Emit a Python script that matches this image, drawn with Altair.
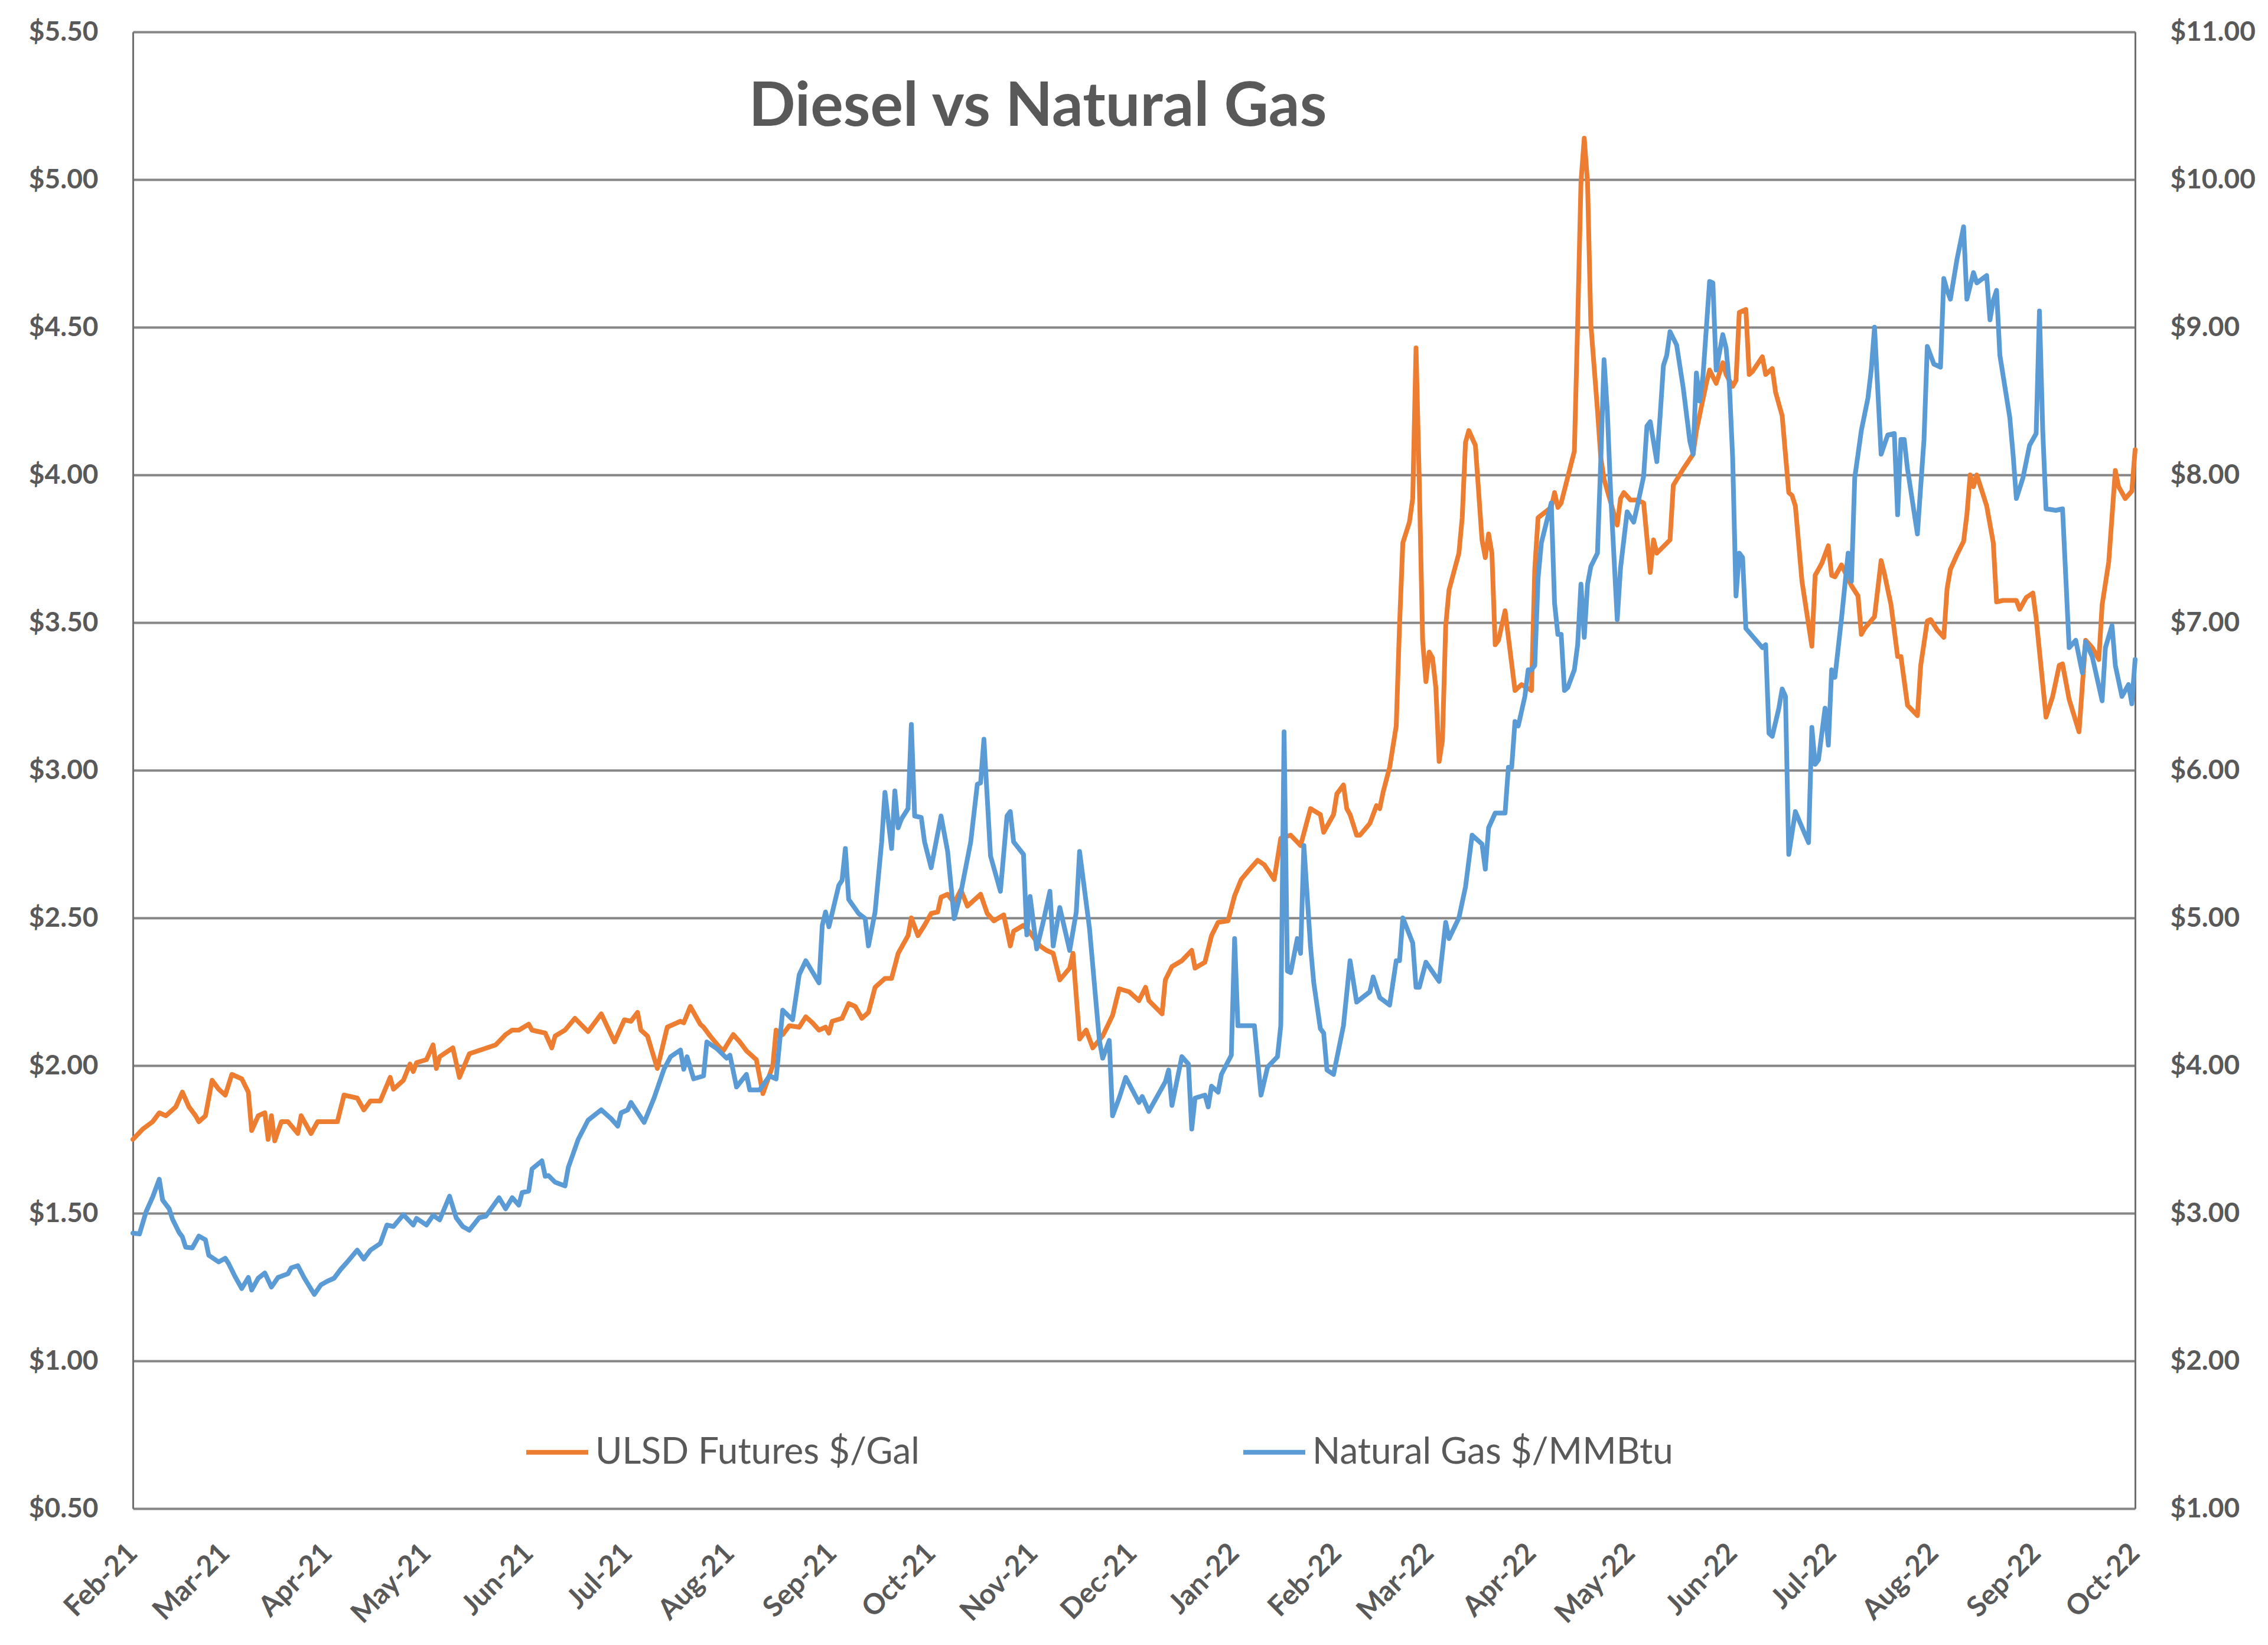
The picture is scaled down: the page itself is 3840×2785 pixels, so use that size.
import altair as alt
import pandas as pd

# ---------------- data ----------------
START_DATE = "2021-02-01"          # day 0 of the day-offset arrays below
series_names = ["ULSD Futures $/Gal", "Natural Gas $/MMBtu"]
series_colors = ["#ED7D31", "#5B9BD5"]
title_text = "Diesel vs Natural Gas"
month_ticks = [(2021, m) for m in range(2, 13)] + [(2022, m) for m in range(1, 11)]
left_ticks = [0.5, 1.0, 1.5, 2.0, 2.5, 3.0, 3.5, 4.0, 4.5, 5.0, 5.5]
right_ticks = [1, 2, 3, 4, 5, 6, 7, 8, 9, 10, 11]

# ULSD futures, $/gal  (days after 1 Feb 2021)
ulsd_day = [0, 3, 6, 8, 10, 13, 15, 17, 19, 20, 22, 24, 26, 28, 30, 33, 35, 36, 38, 40,
            41, 42, 43, 45, 47, 50, 51, 54, 56, 62, 64, 68, 70, 72, 75, 78, 79, 82, 84, 85,
            86, 89, 91, 92, 93, 97, 99, 102, 106, 110, 113, 115, 117, 120, 121, 125, 127, 128, 131, 134,
            138, 142, 146, 149, 151, 153, 154, 156, 159, 162, 164, 166, 167, 169, 172, 173, 175, 178, 179, 182,
            184, 186, 189, 191, 194, 195, 197, 199, 202, 204, 206, 208, 210, 211, 212, 215, 217, 219, 221, 223,
            225, 228, 230, 232, 235, 236, 238, 240, 242, 244, 245, 247, 249, 251, 253, 257, 259, 261, 264, 266,
            267, 270, 272, 275, 277, 279, 281, 284, 285, 287, 289, 291, 294, 297, 299, 302, 305, 307, 308, 312,
            313, 315, 318, 321, 322, 325, 327, 329, 332, 334, 336, 339, 341, 343, 346, 348, 351, 354, 357, 360,
            361, 363, 364, 365, 367, 368, 369, 371, 372, 375, 377, 378, 379, 381, 383, 384, 385, 387, 388, 389,
            390, 391, 392, 393, 394, 395, 396, 397, 398, 399, 402, 403, 404, 405, 407, 409, 410, 411, 412, 413,
            414, 416, 419, 421, 424, 425, 426, 430, 431, 432, 433, 437, 438, 439, 440, 441, 442, 444, 445, 446,
            450, 451, 452, 454, 456, 458, 460, 461, 462, 466, 467, 470, 473, 474, 477, 478, 480, 482, 483, 485,
            486, 487, 489, 490, 491, 494, 495, 497, 498, 500, 502, 503, 504, 506, 509, 510, 512, 514, 515, 516,
            518, 521, 523, 524, 525, 528, 530, 531, 533, 535, 536, 538, 541, 542, 544, 545, 547, 549, 550, 551,
            553, 555, 556, 557, 558, 559, 562, 564, 565, 567, 571, 572, 574, 576, 577, 580, 582, 584, 585, 587,
            590, 592, 594, 596, 597, 599, 601, 602, 604, 606, 607]
ulsd_price = [1.75, 1.785, 1.81, 1.84, 1.83, 1.86, 1.91, 1.86, 1.83, 1.81, 1.83, 1.95, 1.92, 1.90, 1.97, 1.955, 1.91, 1.78, 1.83, 1.84,
              1.75, 1.83, 1.745, 1.81, 1.81, 1.77, 1.83, 1.77, 1.81, 1.81, 1.90, 1.89, 1.85, 1.88, 1.88, 1.96, 1.92, 1.95, 2.005, 1.98,
              2.01, 2.02, 2.07, 1.99, 2.03, 2.06, 1.96, 2.04, 2.055, 2.07, 2.105, 2.12, 2.12, 2.14, 2.12, 2.11, 2.06, 2.10, 2.12, 2.16,
              2.115, 2.175, 2.08, 2.155, 2.15, 2.18, 2.12, 2.10, 1.99, 2.13, 2.14, 2.15, 2.145, 2.20, 2.14, 2.13, 2.10, 2.06, 2.05, 2.105,
              2.08, 2.05, 2.02, 1.905, 2.00, 2.12, 2.105, 2.135, 2.13, 2.165, 2.145, 2.12, 2.13, 2.11, 2.15, 2.16, 2.21, 2.20, 2.16, 2.18,
              2.265, 2.295, 2.295, 2.38, 2.44, 2.50, 2.44, 2.475, 2.515, 2.52, 2.57, 2.58, 2.55, 2.595, 2.54, 2.58, 2.515, 2.49, 2.51, 2.405,
              2.455, 2.475, 2.45, 2.405, 2.39, 2.38, 2.29, 2.33, 2.38, 2.09, 2.12, 2.06, 2.10, 2.17, 2.26, 2.25, 2.22, 2.265, 2.22, 2.175,
              2.29, 2.335, 2.355, 2.39, 2.33, 2.35, 2.44, 2.485, 2.49, 2.575, 2.63, 2.67, 2.695, 2.68, 2.63, 2.77, 2.78, 2.745, 2.87, 2.85,
              2.79, 2.83, 2.85, 2.92, 2.95, 2.87, 2.85, 2.78, 2.78, 2.82, 2.88, 2.87, 2.925, 3.01, 3.15, 3.49, 3.77, 3.84, 3.92, 4.43,
              3.97, 3.44, 3.30, 3.40, 3.38, 3.28, 3.03, 3.10, 3.49, 3.61, 3.735, 3.855, 4.11, 4.15, 4.10, 3.78, 3.72, 3.80, 3.735, 3.425,
              3.44, 3.54, 3.27, 3.29, 3.27, 3.68, 3.855, 3.89, 3.94, 3.89, 3.905, 4.08, 4.51, 4.99, 5.14, 4.99, 4.51, 4.22, 4.06, 3.985,
              3.83, 3.92, 3.94, 3.915, 3.915, 3.905, 3.67, 3.78, 3.735, 3.78, 3.965, 4.02, 4.07, 4.15, 4.31, 4.355, 4.31, 4.38, 4.34, 4.30,
              4.32, 4.55, 4.56, 4.34, 4.35, 4.40, 4.34, 4.36, 4.28, 4.20, 3.94, 3.93, 3.895, 3.64, 3.42, 3.66, 3.70, 3.76, 3.66, 3.655,
              3.695, 3.625, 3.59, 3.46, 3.48, 3.52, 3.71, 3.665, 3.56, 3.385, 3.385, 3.22, 3.185, 3.355, 3.505, 3.51, 3.475, 3.45, 3.615, 3.68,
              3.73, 3.775, 3.865, 4.00, 3.96, 4.00, 3.895, 3.77, 3.57, 3.575, 3.575, 3.545, 3.585, 3.60, 3.515, 3.18, 3.25, 3.355, 3.36, 3.24,
              3.13, 3.44, 3.415, 3.375, 3.56, 3.705, 4.015, 3.96, 3.92, 3.945, 4.085]

# Natural gas, $/MMBtu  (days after 1 Feb 2021)
gas_day = [0, 2, 4, 6, 8, 9, 11, 12, 14, 15, 16, 18, 20, 22, 23, 26, 28, 29, 31, 33,
           35, 36, 38, 40, 42, 44, 47, 48, 50, 52, 55, 57, 59, 61, 63, 65, 68, 70, 72, 75,
           77, 79, 82, 85, 86, 89, 91, 93, 96, 98, 100, 102, 105, 107, 111, 113, 115, 117, 118, 120,
           121, 124, 125, 126, 128, 131, 132, 135, 138, 142, 145, 147, 148, 150, 151, 155, 158, 161, 163, 166,
           167, 168, 170, 173, 174, 177, 180, 181, 183, 186, 187, 190, 193, 195, 197, 200, 202, 204, 208, 209,
           210, 211, 214, 215, 216, 217, 220, 222, 223, 225, 227, 228, 230, 231, 232, 233, 235, 236, 237, 239,
           240, 242, 245, 247, 249, 251, 254, 256, 257, 258, 260, 261, 263, 265, 266, 267, 270, 271, 272, 274,
           276, 278, 279, 281, 284, 286, 287, 290, 293, 294, 296, 297, 299, 301, 305, 306, 308, 313, 314, 315,
           318, 320, 321, 322, 325, 326, 327, 329, 330, 333, 334, 335, 340, 342, 344, 347, 348, 349, 350, 351,
           353, 354, 355, 357, 358, 360, 361, 362, 364, 367, 369, 371, 375, 376, 378, 381, 383, 384, 385, 388,
           389, 390, 392, 396, 398, 399, 402, 404, 406, 409, 410, 411, 413, 416, 417, 418, 419, 420, 422, 423,
           424, 425, 426, 427, 430, 431, 432, 433, 434, 435, 437, 438, 439, 440, 441, 442, 444, 445, 446, 447,
           448, 450, 451, 453, 455, 456, 458, 459, 460, 462, 463, 464, 465, 466, 468, 470, 472, 473, 474, 475,
           476, 478, 479, 480, 482, 483, 484, 485, 486, 487, 488, 489, 494, 495, 496, 497, 499, 500, 501, 502,
           504, 508, 509, 510, 511, 513, 514, 515, 516, 518, 520, 521, 522, 524, 526, 527, 528, 530, 532, 534,
           535, 536, 537, 538, 541, 543, 544, 546, 548, 549, 550, 551, 553, 555, 556, 558, 559, 562, 563, 564,
           565, 566, 569, 570, 571, 573, 575, 577, 578, 579, 580, 583, 585, 587, 589, 591, 592, 594, 597, 598,
           600, 601, 603, 605, 606, 607]
gas_price = [2.865, 2.86, 3.01, 3.11, 3.23, 3.09, 3.03, 2.96, 2.87, 2.84, 2.77, 2.765, 2.845, 2.82, 2.715, 2.67, 2.695, 2.66, 2.57, 2.49,
             2.565, 2.48, 2.56, 2.595, 2.50, 2.565, 2.59, 2.63, 2.645, 2.56, 2.45, 2.515, 2.54, 2.56, 2.62, 2.67, 2.75, 2.69, 2.75, 2.795,
             2.92, 2.91, 2.99, 2.92, 2.965, 2.92, 2.985, 2.955, 3.115, 2.97, 2.91, 2.885, 2.97, 2.98, 3.105, 3.03, 3.105, 3.055, 3.14, 3.15,
             3.30, 3.355, 3.25, 3.255, 3.21, 3.185, 3.31, 3.50, 3.63, 3.70, 3.64, 3.59, 3.68, 3.70, 3.75, 3.615, 3.78, 3.975, 4.06, 4.105,
             3.975, 4.06, 3.91, 3.93, 4.16, 4.115, 4.05, 4.07, 3.855, 3.94, 3.835, 3.835, 3.93, 3.91, 4.375, 4.31, 4.615, 4.71, 4.56, 4.95,
             5.04, 4.94, 5.22, 5.255, 5.47, 5.125, 5.03, 4.995, 4.81, 5.04, 5.515, 5.85, 5.47, 5.86, 5.61, 5.67, 5.74, 6.31, 5.69, 5.68,
             5.515, 5.34, 5.69, 5.45, 4.995, 5.17, 5.515, 5.905, 5.915, 6.21, 5.42, 5.34, 5.18, 5.69, 5.72, 5.515, 5.43, 4.885, 5.145, 4.79,
             4.975, 5.18, 4.81, 5.07, 4.78, 5.04, 5.45, 4.93, 4.17, 4.05, 4.17, 3.66, 3.78, 3.92, 3.75, 3.79, 3.69, 3.89, 3.97, 3.73,
             4.06, 4.01, 3.57, 3.78, 3.80, 3.72, 3.86, 3.82, 3.94, 4.07, 4.86, 4.27, 4.27, 3.80, 3.99, 4.06, 4.27, 6.26, 4.64, 4.63,
             4.86, 4.76, 5.49, 4.81, 4.56, 4.25, 4.22, 3.97, 3.94, 4.27, 4.71, 4.43, 4.50, 4.60, 4.46, 4.41, 4.71, 4.71, 5.00, 4.83,
             4.53, 4.53, 4.70, 4.57, 4.97, 4.86, 5.00, 5.21, 5.56, 5.50, 5.33, 5.61, 5.71, 5.71, 6.02, 6.02, 6.33, 6.30, 6.50, 6.68,
             6.68, 6.71, 7.30, 7.54, 7.81, 7.13, 6.92, 6.92, 6.54, 6.56, 6.68, 6.85, 7.26, 6.90, 7.26, 7.38, 7.47, 8.09, 8.78, 8.43,
             7.88, 7.02, 7.37, 7.75, 7.68, 7.78, 7.99, 8.33, 8.36, 8.09, 8.40, 8.74, 8.81, 8.97, 8.88, 8.59, 8.23, 8.14, 8.69, 8.50,
             8.67, 9.31, 9.30, 8.71, 8.95, 8.86, 8.61, 8.11, 7.18, 7.47, 7.44, 6.96, 6.83, 6.85, 6.25, 6.23, 6.42, 6.55, 6.50, 5.43,
             5.72, 5.51, 6.29, 6.04, 6.07, 6.42, 6.17, 6.68, 6.63, 7.03, 7.47, 7.28, 7.98, 8.30, 8.52, 8.71, 9.00, 8.14, 8.27, 8.28,
             7.73, 8.24, 8.24, 8.04, 7.60, 8.24, 8.87, 8.75, 8.73, 9.33, 9.25, 9.19, 9.46, 9.68, 9.19, 9.37, 9.30, 9.35, 9.05, 9.18,
             9.25, 8.81, 8.39, 8.14, 7.84, 7.98, 8.20, 8.28, 9.11, 8.30, 7.77, 7.76, 7.77, 6.83, 6.88, 6.66, 6.87, 6.77, 6.47, 6.83,
             6.98, 6.71, 6.50, 6.58, 6.45, 6.75]

# ---------------- tables ----------------
start = pd.Timestamp(START_DATE)
ulsd_df = pd.DataFrame({
    "date": start + pd.to_timedelta(ulsd_day, unit="D"),
    "value": ulsd_price,
    "series": series_names[0],
})
gas_df = pd.DataFrame({
    "date": start + pd.to_timedelta(gas_day, unit="D"),
    "value": gas_price,
    "series": series_names[1],
})
title_df = pd.DataFrame({"label": [title_text]})

TEXT = "#595959"
FONT = "Lato"
LINE_W = 8

x_enc = alt.X(
    "date:T",
    scale=alt.Scale(domain=[alt.DateTime(year=2021, month=2, date=1),
                            alt.DateTime(year=2022, month=10, date=1)]),
    axis=alt.Axis(
        values=[alt.DateTime(year=y, month=m, date=1) for y, m in month_ticks],
        format="%b-%y", labelAngle=315, labelAlign="right", labelBaseline="middle",
        labelPadding=68, labelOverlap=False, grid=False, ticks=False, domain=False,
        title=None, labelFontSize=48, labelColor=TEXT, labelFont=FONT,
        labelFontWeight="bold",
    ),
)

color_enc = alt.Color(
    "series:N",
    scale=alt.Scale(domain=series_names, range=series_colors),
    legend=alt.Legend(
        title=None, orient="none", legendX=662, legendY=2348, direction="horizontal",
        symbolType="stroke", symbolSize=11025, symbolStrokeWidth=LINE_W,
        labelFontSize=62, labelColor=TEXT, labelFont=FONT, labelOffset=8,
        columnPadding=532, labelLimit=1000,
    ),
)

ulsd_line = alt.Chart(ulsd_df).mark_line(strokeWidth=LINE_W, strokeJoin="round", strokeCap="round").encode(
    x=x_enc,
    y=alt.Y(
        "value:Q",
        scale=alt.Scale(domain=[0.5, 5.5], nice=False, zero=False),
        axis=alt.Axis(
            orient="left", values=left_ticks, format="$.2f", grid=True,
            gridColor="#868686", gridWidth=4, ticks=False, domain=True,
            domainColor="#6e6e6e", domainWidth=3, labelPadding=59, title=None,
            labelFontSize=46, labelColor=TEXT, labelFont=FONT, labelFontWeight="bold",
        ),
    ),
    color=color_enc,
)

gas_line = alt.Chart(gas_df).mark_line(strokeWidth=LINE_W, strokeJoin="round", strokeCap="round").encode(
    x=x_enc,
    y=alt.Y(
        "value:Q",
        scale=alt.Scale(domain=[1, 11], nice=False, zero=False),
        axis=alt.Axis(
            orient="right", values=right_ticks, format="$.2f", grid=False,
            ticks=False, domain=True, domainColor="#6e6e6e", domainWidth=3,
            labelPadding=59, title=None, labelFontSize=46, labelColor=TEXT,
            labelFont=FONT, labelFontWeight="bold",
        ),
    ),
    color=color_enc,
)

title_layer = alt.Chart(title_df).mark_text(
    font=FONT, fontSize=104, fontWeight="bold", color=TEXT,
    align="center", baseline="alphabetic",
).encode(x=alt.value(1532), y=alt.value(159), text="label:N")

chart = (
    alt.layer(ulsd_line, gas_line, title_layer)
    .resolve_scale(y="independent")
    .properties(
        width=3390, height=2500,
        autosize=alt.AutoSizeParams(type="none"),
        padding={"left": 217, "top": 46, "right": 217, "bottom": 223},
        background="white",
    )
    .configure_view(stroke=None)
    .configure(font=FONT)
)

chart.save("out.html", embed_options={"renderer": "svg", "actions": False})
